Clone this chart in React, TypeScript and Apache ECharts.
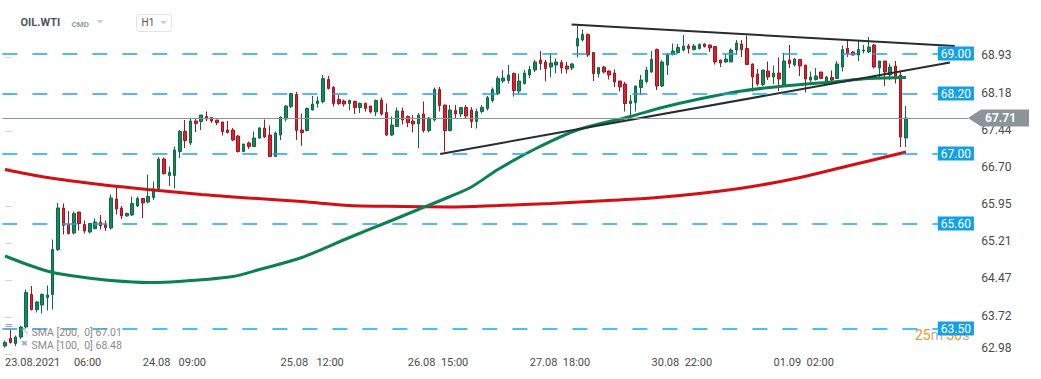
import React, { useEffect, useRef } from "react";
import * as echarts from "echarts";

// ---------- data (hourly candles, index 0..170) ----------
const open = [
  63.15, 63.30, 63.20, 63.33, 63.53, 64.18, 63.88, 63.97, 64.12, 64.18,
  65.08, 65.91, 65.58, 65.41, 65.83, 65.58, 65.43, 65.50, 65.63, 65.58,
  65.51, 66.09, 65.91, 65.75, 65.77, 65.95, 66.10, 66.03, 66.12, 66.30,
  66.89, 66.56, 66.56, 67.04, 67.44, 67.21, 67.65, 67.64, 67.74, 67.72,
  67.67, 67.63, 67.47, 67.47, 67.35, 67.04, 67.21, 67.14, 67.31, 67.51,
  67.37, 66.94, 67.37, 67.69, 67.94, 68.18, 67.47, 67.46, 67.87, 68.00,
  68.04, 68.48, 68.32, 68.08, 68.05, 68.00, 68.04, 67.92, 68.00, 67.95,
  67.83, 68.07, 67.82, 67.37, 67.54, 67.85, 67.74, 67.65, 67.59, 67.79,
  67.46, 67.67, 68.28, 67.97, 67.46, 67.86, 67.79, 67.92, 67.87, 67.64,
  67.84, 67.90, 68.06, 68.20, 68.45, 68.46, 68.60, 68.25, 68.40, 68.57,
  68.67, 68.87, 68.83, 68.73, 68.77, 68.82, 68.75, 68.71, 69.15, 69.27,
  69.38, 69.02, 68.60, 68.73, 68.65, 68.61, 68.45, 68.39, 68.00, 68.02,
  68.32, 68.44, 68.63, 69.08, 68.35, 68.77, 68.98, 69.02, 69.07, 69.15,
  69.08, 69.10, 69.19, 69.17, 69.14, 68.87, 68.83, 68.83, 69.07, 69.19,
  69.10, 68.79, 68.59, 68.38, 68.65, 68.53, 68.61, 68.37, 68.87, 68.77,
  68.88, 68.77, 68.47, 68.48, 68.63, 68.43, 68.52, 68.50, 68.73, 69.10,
  69.03, 68.97, 69.05, 69.03, 69.17, 68.71, 68.85, 68.57, 68.75, 68.57,
  67.31,
];
const high = [
  63.26, 63.48, 63.36, 63.55, 64.28, 64.35, 64.05, 64.20, 64.36, 65.28,
  66.01, 66.00, 65.85, 65.84, 65.83, 65.66, 65.60, 65.70, 65.77, 65.66,
  66.18, 66.32, 65.95, 65.82, 66.14, 66.14, 66.11, 66.58, 66.44, 66.93,
  66.92, 66.74, 67.14, 67.47, 67.67, 67.69, 67.69, 67.77, 67.84, 67.73,
  67.67, 67.63, 67.65, 67.51, 67.37, 67.19, 67.24, 67.44, 67.53, 67.68,
  67.56, 67.44, 67.74, 67.97, 68.21, 68.23, 67.80, 67.92, 68.15, 68.14,
  68.57, 68.55, 68.35, 68.17, 68.08, 68.08, 68.06, 68.02, 68.02, 67.95,
  68.08, 68.12, 68.00, 67.74, 67.92, 67.92, 67.76, 67.77, 67.81, 68.04,
  67.73, 68.32, 68.33, 67.97, 67.97, 67.97, 67.93, 67.97, 67.93, 67.90,
  67.97, 68.15, 68.32, 68.55, 68.67, 68.77, 68.62, 68.60, 68.67, 68.75,
  68.87, 69.05, 68.87, 69.01, 68.90, 68.87, 68.83, 68.81, 69.56, 69.48,
  69.40, 69.03, 68.73, 68.75, 68.66, 68.68, 68.45, 68.43, 68.17, 68.35,
  68.57, 68.73, 69.05, 69.10, 68.87, 69.01, 69.20, 69.19, 69.37, 69.19,
  69.19, 69.20, 69.20, 69.18, 69.14, 68.87, 68.99, 69.10, 69.27, 69.27,
  69.36, 68.80, 68.69, 68.67, 68.84, 68.76, 68.92, 69.01, 69.17, 68.91,
  68.89, 68.77, 68.64, 68.71, 68.63, 68.55, 68.66, 68.85, 69.16, 69.29,
  69.05, 69.25, 69.17, 69.33, 69.19, 68.85, 68.85, 68.80, 68.85, 68.65,
  67.95,
];
const low = [
  63.12, 63.20, 63.15, 63.29, 63.50, 63.86, 63.82, 63.80, 63.86, 63.88,
  65.05, 65.38, 65.38, 65.38, 65.46, 65.40, 65.40, 65.48, 65.48, 65.45,
  65.48, 65.78, 65.69, 65.74, 65.75, 65.93, 65.71, 66.00, 66.07, 66.24,
  66.58, 66.35, 66.30, 66.91, 67.11, 67.17, 67.43, 67.47, 67.65, 67.61,
  67.57, 67.36, 67.40, 67.25, 67.02, 67.03, 67.09, 67.13, 67.29, 67.31,
  66.94, 66.94, 67.27, 67.64, 67.91, 67.27, 67.15, 67.44, 67.86, 67.92,
  68.00, 68.28, 67.94, 67.97, 67.94, 67.87, 67.79, 67.81, 67.84, 67.80,
  67.75, 67.76, 67.35, 67.35, 67.54, 67.58, 67.53, 67.42, 67.11, 67.42,
  67.42, 67.64, 67.84, 67.04, 67.44, 67.69, 67.73, 67.70, 67.51, 67.50,
  67.80, 67.86, 68.02, 68.17, 68.41, 68.40, 68.14, 68.20, 68.38, 68.51,
  68.63, 68.67, 68.44, 68.52, 68.60, 68.60, 68.60, 68.67, 68.92, 69.24,
  68.93, 68.45, 68.52, 68.60, 68.48, 68.33, 68.24, 67.84, 67.71, 67.84,
  68.17, 68.40, 68.61, 68.27, 68.33, 68.57, 68.96, 69.00, 69.04, 69.00,
  69.06, 69.08, 69.12, 69.03, 68.78, 68.73, 68.82, 68.83, 68.97, 68.93,
  68.77, 68.24, 68.35, 68.35, 68.47, 68.39, 68.25, 68.36, 68.71, 68.74,
  68.55, 68.22, 68.43, 68.46, 68.49, 68.42, 68.45, 68.49, 68.64, 68.93,
  68.96, 68.85, 69.00, 69.01, 68.70, 68.53, 68.35, 68.47, 68.40, 67.13,
  67.13,
];
const close = [
  63.22, 63.22, 63.33, 63.53, 64.22, 63.88, 64.03, 64.18, 64.17, 65.08,
  65.91, 65.56, 65.40, 65.80, 65.60, 65.45, 65.60, 65.63, 65.55, 65.52,
  66.11, 65.89, 65.75, 65.80, 66.00, 66.10, 66.01, 66.14, 66.29, 66.89,
  66.60, 66.62, 67.07, 67.44, 67.26, 67.65, 67.60, 67.77, 67.69, 67.65,
  67.62, 67.44, 67.42, 67.27, 67.04, 67.19, 67.14, 67.31, 67.51, 67.33,
  66.94, 67.41, 67.73, 67.95, 68.20, 67.46, 67.42, 67.90, 67.99, 68.05,
  68.50, 68.30, 68.00, 68.00, 67.99, 68.06, 67.92, 68.00, 67.90, 67.83,
  68.06, 67.79, 67.37, 67.57, 67.85, 67.67, 67.62, 67.59, 67.77, 67.46,
  67.71, 68.28, 67.96, 67.46, 67.87, 67.79, 67.92, 67.75, 67.64, 67.84,
  67.92, 68.12, 68.28, 68.50, 68.51, 68.57, 68.26, 68.45, 68.61, 68.68,
  68.83, 68.80, 68.70, 68.81, 68.83, 68.71, 68.69, 68.79, 69.30, 69.38,
  68.97, 68.60, 68.72, 68.63, 68.57, 68.43, 68.33, 68.00, 68.05, 68.35,
  68.47, 68.67, 68.88, 68.35, 68.83, 68.97, 69.05, 69.12, 69.15, 69.10,
  69.15, 69.18, 69.14, 69.11, 68.83, 68.81, 68.89, 69.07, 69.21, 69.08,
  68.78, 68.53, 68.39, 68.67, 68.53, 68.61, 68.49, 68.85, 68.80, 68.89,
  68.75, 68.49, 68.53, 68.55, 68.50, 68.53, 68.47, 68.79, 69.08, 69.00,
  68.97, 69.08, 69.07, 69.13, 68.73, 68.85, 68.63, 68.73, 68.53, 67.33,
  67.71,
];

// moving averages, read at sample candles
const sma200Idx = [0, 8, 18, 27, 37, 46, 56, 65, 75, 84, 93, 103, 112, 122, 131, 141, 150, 159, 170];
const sma200Val = [66.68, 66.52, 66.38, 66.28, 66.18, 66.11, 66.04, 65.96, 65.94, 65.93, 65.96, 66.0, 66.05, 66.11, 66.2, 66.34, 66.52, 66.75, 67.03];
const sma100Idx = [0, 5, 9, 15, 20, 27, 34, 43, 48, 56, 65, 72, 78, 84, 88, 93, 100, 108, 118, 124, 131, 139, 147, 156, 163, 170];
const sma100Val = [64.95, 64.75, 64.62, 64.52, 64.46, 64.42, 64.45, 64.54, 64.68, 64.92, 65.32, 65.62, 65.88, 66.14, 66.33, 66.68, 67.09, 67.47, 67.74, 67.92, 68.09, 68.25, 68.35, 68.43, 68.5, 68.52];

// drawn trend lines (candle-slot position, price)
const trendUpperX = [106.9, 179.2];
const trendUpperY = [69.58, 69.15];
const trendLowerX = [82.1, 178.3];
const trendLowerY = [66.99, 68.82];

// horizontal levels and last price
const hLevels = [69.0, 68.2, 67.0, 65.6, 63.5];
const lastPrice = 67.71;

// axes
const yTicks = [62.98, 63.72, 64.47, 65.21, 65.95, 66.7, 67.44, 68.18, 68.93];
const xTickIndex = [0, 26, 52, 76, 99, 122, 145];
const xTickText = ["23.08.2021     06:00", "24.08   09:00", "25.08   12:00", "26.08  15:00", "27.08  18:00", "30.08  22:00", "01.09  02:00"];

const legendText = ["SMA [200,  0] 67.01", "SMA [100,  0] 68.48"];

// ---------- layout constants ----------
const N_SLOTS = 183;
const LEVEL_END = 176;
const TAG_X = 181.7;
const FONT = "Roboto, sans-serif";
const GREEN = "#14885b";
const GREEN_D = "#0b6a44";
const RED = "#dc2232";
const RED_D = "#a3141f";
const BLUE = "#14a0e8";
const BLUE_LINE = "#1ea3ee";
const GRAY = "#8a959b";

const ttl = (left: number, top: number, text: string, color: string, fontSize: number, fontWeight: string = "normal", fontFamily: string = FONT) => ({
  text,
  left,
  top,
  padding: 0,
  itemGap: 0,
  textStyle: { color, fontSize, fontWeight, fontFamily },
});

export default function App() {
  const ref = useRef<HTMLDivElement>(null);

  useEffect(() => {
    document.body.style.margin = "0";
    if (!ref.current) return;
    const chart = echarts.init(ref.current, undefined, { renderer: "svg" });

    const categories = Array.from({ length: N_SLOTS }, (_, i) => String(i));
    const candles = open.map((o, i) => [o, close[i], low[i], high[i]]);

    const option: any = {
      animation: false,
      backgroundColor: "#ffffff",
      textStyle: { fontFamily: FONT },
      title: [
        ttl(20.5, 17, "OIL.WTI", "#4b5660", 11, "bold"),
        ttl(71.5, 20, "CMD", "#8d9eab", 8, "bold"),
        ttl(141.5, 17.5, "H1", "#555555", 10),
        ttl(5, 320, "≡", "#9a9a9a", 13),
        ttl(21, 325, "↖", "#a8a8a8", 10, "normal", "DejaVu Sans"),
        ttl(21, 339, "✖", "#a8a8a8", 8, "normal", "DejaVu Sans"),
        ttl(31.5, 327, legendText[0], "#8a8a8a", 10.5),
        ttl(31.5, 340, legendText[1], "#8a8a8a", 10.5),
      ],
      grid: { left: 2.35, right: 68.75, top: 10.5, bottom: 24.5 },
      xAxis: [
        {
          type: "category",
          data: categories,
          boundaryGap: true,
          axisLine: { show: false },
          axisTick: { show: false },
          splitLine: { show: false },
          axisLabel: {
            interval: (i: number) => xTickIndex.includes(i),
            formatter: (_v: string, i: number) => {
              const k = xTickIndex.indexOf(i);
              return k >= 0 ? xTickText[k] : "";
            },
            align: "left",
            color: "#4a4a4a",
            fontSize: 11,
            margin: 2,
            fontFamily: FONT,
          },
        },
        { type: "value", min: -0.5, max: N_SLOTS - 0.5, show: false },
      ],
      yAxis: {
        type: "value",
        position: "right",
        min: 62.98,
        max: 69.86,
        axisLine: { show: false },
        splitLine: { show: false },
        axisTick: { show: true, length: 7, lineStyle: { color: "#d4d4d4" }, customValues: yTicks },
        axisLabel: {
          customValues: yTicks,
          formatter: (v: number) => (Math.abs(v - yTicks[0]) < 1e-6 ? `{low|${v.toFixed(2)}}` : v.toFixed(2)),
          rich: { low: { padding: [0, 0, 10, 0], fontSize: 12, color: "#4a4a4a" } },
          color: "#4a4a4a",
          fontSize: 12,
          margin: 9,
          padding: [0, 0, 4, 0],
          fontFamily: FONT,
        },
      },
      series: [
        {
          name: "levels",
          type: "line",
          xAxisIndex: 1,
          yAxisIndex: 0,
          data: [],
          silent: true,
          z: 1,
          markLine: {
            symbol: ["none", "none"],
            silent: true,
            animation: false,
            lineStyle: { color: BLUE_LINE, type: [15, 15], width: 1.5, opacity: 1 },
            label: {
              show: true,
              position: "end",
              distance: 0,
              formatter: "{b}",
              backgroundColor: BLUE,
              color: "#ffffff",
              fontSize: 12,
              lineHeight: 13,
              padding: [1, 3, 0, 3],
              fontFamily: FONT,
            },
            data: hLevels.map((v) => [
              { name: v.toFixed(2), coord: [-0.5, v] },
              { coord: [LEVEL_END, v] },
            ]),
          },
        },
        {
          name: "price",
          type: "line",
          xAxisIndex: 1,
          yAxisIndex: 0,
          data: [],
          silent: true,
          z: 1,
          markLine: {
            symbol: ["none", "none"],
            silent: true,
            animation: false,
            lineStyle: { color: GRAY, type: "solid", width: 1 },
            label: { show: false },
            data: [[{ coord: [-0.5, lastPrice] }, { coord: [TAG_X, lastPrice] }]],
          },
          markPoint: {
            silent: true,
            animation: false,
            symbol: "path://M0,8.5L13,0L61,0L61,17L13,17Z",
            symbolSize: [61, 17],
            symbolOffset: [30.5, 0],
            symbolKeepAspect: false,
            itemStyle: { color: GRAY },
            label: {
              show: true,
              position: "inside",
              formatter: lastPrice.toFixed(2),
              color: "#ffffff",
              fontWeight: "bold",
              fontSize: 12,
              offset: [2, 0],
              fontFamily: FONT,
            },
            data: [{ coord: [TAG_X, lastPrice] }],
          },
        },
        {
          name: "OIL.WTI",
          type: "candlestick",
          xAxisIndex: 0,
          yAxisIndex: 0,
          barWidth: 3,
          z: 2,
          data: candles,
          itemStyle: {
            color: GREEN,
            color0: RED,
            borderColor: GREEN_D,
            borderColor0: RED_D,
            borderWidth: 1,
          },
        },
        {
          name: "SMA200",
          type: "line",
          xAxisIndex: 1,
          yAxisIndex: 0,
          z: 3,
          smooth: 0.3,
          showSymbol: false,
          data: sma200Idx.map((x, i) => [x, sma200Val[i]]),
          lineStyle: { color: "#d40f14", width: 3 },
        },
        {
          name: "SMA100",
          type: "line",
          xAxisIndex: 1,
          yAxisIndex: 0,
          z: 3,
          smooth: 0.3,
          showSymbol: false,
          data: sma100Idx.map((x, i) => [x, sma100Val[i]]),
          lineStyle: { color: "#0b8152", width: 3 },
        },
        {
          name: "trendUpper",
          type: "line",
          xAxisIndex: 1,
          yAxisIndex: 0,
          z: 4,
          showSymbol: false,
          data: trendUpperX.map((x, i) => [x, trendUpperY[i]]),
          lineStyle: { color: "#272c31", width: 2 },
        },
        {
          name: "trendLower",
          type: "line",
          xAxisIndex: 1,
          yAxisIndex: 0,
          z: 4,
          showSymbol: false,
          data: trendLowerX.map((x, i) => [x, trendLowerY[i]]),
          lineStyle: { color: "#272c31", width: 2 },
        },
      ],
      graphic: [
        { type: "polygon", z: 0, shape: { points: [[96.5, 20], [103.5, 20], [100, 23.5]] }, style: { fill: "#c9ced2" } },
        { type: "rect", z: -1, shape: { x: 136.5, y: 14.5, width: 35, height: 17, r: 2 }, style: { fill: "#ffffff", stroke: "#e2e5e8", lineWidth: 1 } },
        { type: "polygon", z: 0, shape: { points: [[160, 21], [167, 21], [163.5, 24.5]] }, style: { fill: "#c9ced2" } },
        {
          type: "text",
          x: 915,
          y: 334.5,
          z: 0,
          style: {
            text: "{o|25}{g|m} {o|30}{g|s}",
            verticalAlign: "middle",
            fontSize: 14,
            fontFamily: FONT,
            rich: {
              o: { fill: "#f7931e", fontSize: 14, fontFamily: FONT },
              g: { fill: "#b0b0b0", fontSize: 14, fontFamily: FONT },
            },
          },
        },
      ],
    };

    chart.setOption(option);
    return () => chart.dispose();
  }, []);

  return <div ref={ref} style={{ width: 1041, height: 379 }} />;
}
